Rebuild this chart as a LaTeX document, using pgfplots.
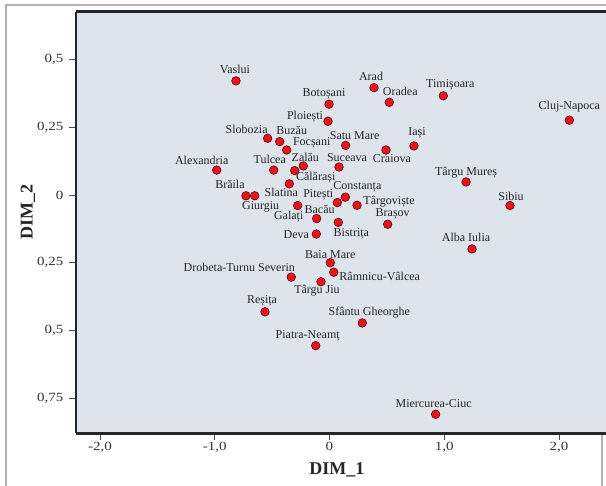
\documentclass[border=0pt]{standalone}
\usepackage{pgfplots}
\pgfplotsset{compat=1.18}
\usepackage{pgfplotstable}
\usepackage{fontspec}
\setmainfont{Liberation Serif}
\newfontfamily\tickfont[FakeStretch=1.2]{Liberation Serif}
\definecolor{bgfill}{RGB}{221,228,236}
\definecolor{dotred}{RGB}{232,22,28}
\definecolor{framegray}{RGB}{178,178,178}

\pgfplotstableread[col sep=comma]{
x,y,dx,dy,name
-0.815,0.421,-1,11,Vaslui
0.388,0.396,-3,11,Arad
0.521,0.342,11,11,Oradea
0.992,0.366,7,11,Timișoara
-0.004,0.335,-5,10,Botoșani
-0.013,0.272,-23,5,Ploiești
-0.539,0.209,-21,9,Slobozia
-0.434,0.197,12,11,Buzău
-0.373,0.166,25,7,Focșani
0.141,0.183,9,10,Satu Mare
0.492,0.166,6,-9,Craiova
0.736,0.181,3,13,Iași
-0.983,0.092,-15,10,Alexandria
-0.486,0.092,-4,11,Tulcea
-0.303,0.090,21,-7,Călărași
-0.228,0.107,2,9,Zalău
0.083,0.103,8,9,Suceava
-0.350,0.041,-8,-9,Slatina
-0.728,-0.003,-16,11,Brăila
-0.652,-0.003,6,-11,Giurgiu
0.138,-0.008,12,10,Constanța
0.068,-0.028,-19,8,Pitești
0.240,-0.038,32,4,Târgoviște
-0.277,-0.039,-9,-11,Galați
-0.112,-0.087,3,9,Bacău
0.077,-0.101,13,-11,Bistrița
0.507,-0.108,5,10,Brașov
-0.115,-0.144,-20,-1,Deva
0.007,-0.250,0,8,Baia Mare
0.037,-0.285,46,-4,Râmnicu-Vâlcea
-0.333,-0.303,-52,10,Drobeta-Turnu Severin
-0.074,-0.320,-4,-9,Târgu Jiu
-0.562,-0.431,-3,11,Reșița
0.286,-0.472,7,10,Sfântu Gheorghe
-0.120,-0.556,-8,10,Piatra-Neamț
0.925,-0.809,-2,11,Miercurea-Ciuc
2.090,0.276,0,14,Cluj-Napoca
1.190,0.048,0,9,Târgu Mureș
1.573,-0.039,1,9,Sibiu
1.242,-0.199,-6,12,Alba Iulia
}\cities

\begin{document}
\begin{tikzpicture}[x=1pt,y=1pt]
\begin{axis}[
  at={(76pt,52.5pt)}, anchor=south west,
  scale only axis, width=540pt, height=422pt,
  xmin=-2.209, xmax=2.4967, ymin=-0.880, ymax=0.677,
  axis x line*=box, axis y line*=left,
  axis background/.style={fill=bgfill},
  axis line style={line width=2.4pt, color=black!85},
  tick align=outside, tick pos=left,
  major tick length=7pt,
  tick style={line width=0.9pt, color=black!70},
  xtick={-2,-1,0,1,2},
  xticklabels={{-2,0},{-1,0},{0},{1,0},{2,0}},
  ytick={-0.75,-0.5,-0.25,0,0.25,0.5},
  yticklabels={{0,75},{0,5},{0,25},{0},{0,25},{0,5}},
  ticklabel style={font=\tickfont\fontsize{12.5}{14}\selectfont, text=black!80},
  xticklabel style={yshift=2pt},
  yticklabel style={xshift=-2pt},
  xlabel={DIM\_1}, ylabel={DIM\_2},
  label style={font=\bfseries\fontsize{18}{20}\selectfont, text=black!85},
  xlabel style={at={(axis description cs:0.4833,-0.0865)}, anchor=center},
  ylabel style={at={(axis description cs:-0.0889,0.525)}, anchor=center},
  clip=false,
]
\addplot[only marks, mark=*, mark size=4.3pt,
  mark options={fill=dotred, draw=black!60!red, line width=0.6pt},
  point meta=explicit symbolic,
  visualization depends on={\thisrow{dx}\as\dx},
  visualization depends on={\thisrow{dy}\as\dy},
  nodes near coords, nodes near coords align={center},
  every node near coord/.append style={anchor=center, inner sep=0pt,
     xshift=\dx pt, yshift=\dy pt,
     font=\fontsize{12}{13}\selectfont, text=black!85},
] table[x=x, y=y, meta=name] {\cities};
\end{axis}
\draw[framegray, line width=1.2pt] (6,0) -- (6,481) -- (606,481);
\draw[framegray, line width=1.2pt] (602,0) -- (602,51);
\pgfresetboundingbox
\useasboundingbox (0,0) rectangle (606,486);
\end{tikzpicture}
\end{document}
